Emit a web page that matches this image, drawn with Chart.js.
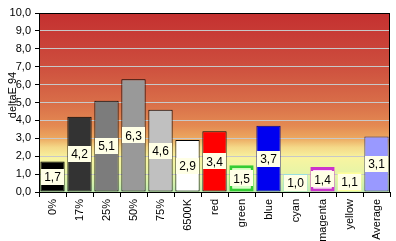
<!DOCTYPE html>
<html>
<head>
<meta charset="utf-8">
<script src="https://cdn.jsdelivr.net/npm/chart.js@4/dist/chart.umd.min.js"></script>
<style>
  html, body { margin: 0; padding: 0; background: #fff; }
  canvas { display: block; }
</style>
</head>
<body>
<canvas id="chart" width="396" height="241"></canvas>
<script>
// categories and measured deltaE 94 values
const categories = ['0%', '17%', '25%', '50%', '75%', '6500K', 'red', 'green', 'blue', 'cyan', 'magenta', 'yellow', 'Average'];
const deltaE = [1.7, 4.2, 5.1, 6.3, 4.6, 2.9, 3.4, 1.5, 3.7, 1.0, 1.4, 1.1, 3.1];
const yTicks = [0, 1, 2, 3, 4, 5, 6, 7, 8, 9, 10];

const fills = ['#000000', '#333333', '#7c7c7c', '#999999', '#c0c0c0', '#ffffff', '#ff0000', '#d8ffc8', '#0000f0', '#d8ffff', '#ffd8ff', '#ffffcc', '#9999ff'];
const borders = ['#000000', '#000000', '#000000', '#000000', '#000000', '#000000', '#000000', '#33cc33', '#000080', '#99e0e0', '#cc33cc', '#ffff99', '#333366'];
const borderWidths = [1, 1, 1, 1, 1, 1, 1, 3, 1, 3, 3, 3, 1];

const fmt = (v) => v.toFixed(1).replace('.', ',');

const plotPlugin = {
  id: 'plotDecor',
  beforeDraw(chart) {
    const { ctx, chartArea: a } = chart;
    const g = ctx.createLinearGradient(0, a.top, 0, a.bottom);
    g.addColorStop(0, '#c43030');
    g.addColorStop(0.26, '#cc4a3c');
    g.addColorStop(0.49, '#d86c48');
    g.addColorStop(0.63, '#e48a52');
    g.addColorStop(0.70, '#eca860');
    g.addColorStop(0.75, '#f4d888');
    g.addColorStop(0.81, '#f8f4a0');
    g.addColorStop(0.91, '#e4f4a8');
    g.addColorStop(1, '#c0ecb0');
    ctx.save();
    ctx.fillStyle = g;
    ctx.fillRect(a.left, a.top, a.width, a.height);
    ctx.restore();
  },
  afterDatasetsDraw(chart) {
    const { ctx, chartArea: a } = chart;
    // frame round the plot area
    ctx.save();
    ctx.strokeStyle = '#000';
    ctx.lineWidth = 1;
    ctx.strokeRect(a.left + 0.5, a.top + 0.5, a.width - 1, a.height);
    ctx.restore();

    // value boxes in the middle of each bar
    const meta = chart.getDatasetMeta(0);
    ctx.save();
    ctx.font = '12px "Liberation Sans", Arial, sans-serif';
    ctx.textAlign = 'center';
    ctx.textBaseline = 'middle';
    meta.data.forEach((bar, i) => {
      const text = fmt(deltaE[i]);
      const w = ctx.measureText(text).width + 6;
      const h = 16;
      const cx = bar.x;
      const cy = (bar.y + bar.base) / 2;
      ctx.fillStyle = '#ffffe6';
      ctx.fillRect(Math.round(cx - w / 2), Math.round(cy - h / 2), Math.round(w), h);
      ctx.fillStyle = '#000';
      ctx.fillText(text, cx, cy + 1);
    });
    ctx.restore();
  },
  afterDraw(chart) {
    const { ctx } = chart;
    ctx.save();
    ctx.translate(13, 95);
    ctx.rotate(-Math.PI / 2);
    ctx.font = '11px "Liberation Sans", Arial, sans-serif';
    ctx.fillStyle = '#000';
    ctx.textAlign = 'center';
    ctx.textBaseline = 'middle';
    ctx.fillText('deltaE 94', 0, 0);
    ctx.restore();
  },
};

new Chart(document.getElementById('chart'), {
  type: 'bar',
  data: {
    labels: categories,
    datasets: [
      {
        data: deltaE,
        backgroundColor: fills,
        borderColor: borders,
        borderWidth: borderWidths,
        borderSkipped: false,
        barPercentage: 0.9,
        categoryPercentage: 1.0,
      },
    ],
  },
  options: {
    responsive: false,
    animation: false,
    devicePixelRatio: 1,
    layout: { padding: { top: 13, right: 6, left: 0, bottom: 0 } },
    plugins: {
      legend: { display: false },
      tooltip: { enabled: false },
      title: { display: false },
    },
    scales: {
      x: {
        offset: true,
        grid: {
          offset: true,
          drawOnChartArea: false,
          tickLength: 5,
          tickColor: '#000',
        },
        border: { color: '#000' },
        ticks: {
          minRotation: 90,
          maxRotation: 90,
          autoSkip: false,
          padding: 2,
          color: '#000',
          font: { family: '"Liberation Sans", Arial, sans-serif', size: 11 },
        },
        afterFit(scale) { scale.height = 49; },
      },
      y: {
        min: 0,
        max: 10,
        afterBuildTicks(scale) { scale.ticks = yTicks.map((v) => ({ value: v })); },
        grid: {
          color: '#c8c8c8',
          tickLength: 4,
          tickColor: '#000',
        },
        border: { color: '#000' },
        ticks: {
          padding: 4,
          color: '#000',
          font: { family: '"Liberation Sans", Arial, sans-serif', size: 11 },
          callback: (v) => fmt(v),
        },
        afterFit(scale) { scale.width = 39; },
      },
    },
  },
  plugins: [plotPlugin],
});
</script>
</body>
</html>
